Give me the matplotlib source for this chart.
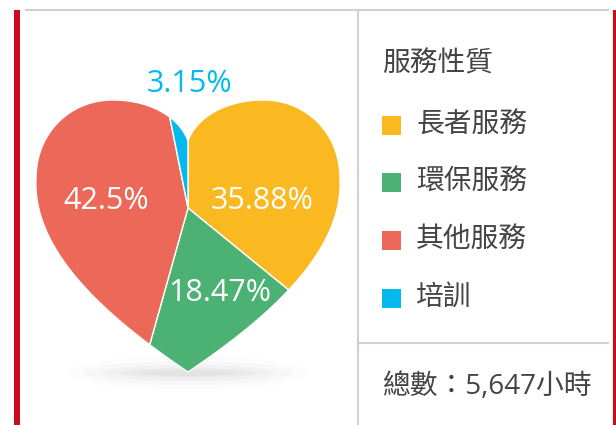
import matplotlib.pyplot as plt
import numpy as np
from matplotlib.patches import Ellipse, Rectangle

# data
categories = ['長者服務', '環保服務', '其他服務', '培訓']
shares = [35.88, 18.47, 42.5, 3.15]
colors = ['#FBB921', '#4BB274', '#EC6858', '#05B9EF']
legend_title = '服務性質'
total_text = '總數：5,647小時'

TXT = '#444444'
FONT = ['Open Sans', 'Noto Sans CJK TC', 'DejaVu Sans']
plt.rcParams['font.family'] = FONT

fig = plt.figure(figsize=(6.16, 4.25), dpi=100)
ax = fig.add_axes([0, 0, 1, 1])
ax.set_xlim(0, 616)
ax.set_ylim(425, 0)
ax.axis('off')

# heart outline (pixel coords, y downward) as cubic bezier segments
segs = [[(188, 141), (196, 118), (225, 100), (263, 100)],
        [(263, 100), (308, 100), (340, 135), (340, 178)],
        [(340, 178), (344, 252), (268, 318), (188, 372)],
        [(188, 372), (108, 318), (32, 252), (36, 178)],
        [(36, 178), (36, 135), (68, 100), (113, 100)],
        [(113, 100), (151, 100), (180, 118), (188, 141)]]
t = np.linspace(0, 1, 60)[:, None]
heart = []
for p0, p1, p2, p3 in segs:
    p0, p1, p2, p3 = map(np.array, (p0, p1, p2, p3))
    pts = (1 - t) ** 3 * p0 + 3 * (1 - t) ** 2 * t * p1 + 3 * (1 - t) * t ** 2 * p2 + t ** 3 * p3
    heart.extend(pts[:-1].tolist())
heart = np.array(heart)


def clip_convex(subject, clip):
    # Sutherland-Hodgman: clip subject polygon against a convex polygon
    area = np.sum(clip[:, 0] * np.roll(clip[:, 1], -1) - np.roll(clip[:, 0], -1) * clip[:, 1])
    sgn = np.sign(area)

    def inside(p, a, b):
        return sgn * ((b[0] - a[0]) * (p[1] - a[1]) - (b[1] - a[1]) * (p[0] - a[0])) >= 0

    def cross_pt(p, q, a, b):
        d1 = q - p
        d2 = b - a
        den = d1[0] * d2[1] - d1[1] * d2[0]
        s = ((a[0] - p[0]) * d2[1] - (a[1] - p[1]) * d2[0]) / den
        return p + s * d1

    out = list(subject)
    for i in range(len(clip)):
        a, b = clip[i], clip[(i + 1) % len(clip)]
        inp = out
        out = []
        if not inp:
            break
        prev = inp[-1]
        for cur in inp:
            if inside(cur, a, b):
                if not inside(prev, a, b):
                    out.append(cross_pt(prev, cur, a, b))
                out.append(cur)
            elif inside(prev, a, b):
                out.append(cross_pt(prev, cur, a, b))
            prev = cur
    return np.array(out)


# soft shadow under the heart
for w, h, a in [(240, 34, 0.02), (210, 24, 0.03), (175, 16, 0.045), (135, 10, 0.055), (95, 6, 0.06)]:
    ax.add_patch(Ellipse((188, 373), w, h, facecolor='#777777', edgecolor='none',
                         alpha=a, zorder=0))

# wedges, clockwise from 12 o'clock, cut to the heart
cx, cy = 188, 208
bounds = np.concatenate([[0], np.cumsum(shares)]) / np.sum(shares) * 2 * np.pi
for a0, a1, c in zip(bounds[:-1], bounds[1:], colors):
    phi = np.linspace(a0, a1, 40)
    wedge = np.vstack([[cx, cy], np.column_stack([cx + 400 * np.sin(phi), cy - 400 * np.cos(phi)])])
    poly = clip_convex(heart, wedge)
    ax.fill(poly[:, 0], poly[:, 1], facecolor=c, edgecolor='white', lw=1.0,
            joinstyle='round', zorder=2)

# percentage labels
label_pos = [(262, 201), (220, 293), (106, 201)]
for (x, y), v in zip(label_pos, shares[:3]):
    ax.text(x, y, f'{v:g}%', color='white', fontsize=22, ha='center',
            va='center', zorder=5)
ax.text(189, 84, f'{shares[3]:g}%', color=colors[3], fontsize=22,
        ha='center', va='center', zorder=5)

# frame lines
ax.plot([26, 608], [10, 10], color='#d0d0d0', lw=1.5, zorder=1)
ax.plot([358, 358], [10, 425], color='#d0d0d0', lw=1.5, zorder=1)
ax.plot([358, 608], [343, 343], color='#d0d0d0', lw=1.5, zorder=1)
ax.add_patch(Rectangle((14, 10), 6, 415, facecolor='#D0091E', edgecolor='none', zorder=1))
ax.add_patch(Rectangle((613, 10), 3, 415, facecolor='#D0091E', edgecolor='none', zorder=1))

# legend
ax.text(382, 64, legend_title, color=TXT, fontsize=20, ha='left', va='center')
ys = [125, 182, 240, 298]
for y, c, name in zip(ys, colors, categories):
    ax.add_patch(Rectangle((382, y - 9.5), 19, 19, facecolor=c, edgecolor='none'))
    ax.text(416, y, name, color=TXT, fontsize=20, ha='left', va='center')
ax.text(382, 387, total_text, color=TXT, fontsize=20, ha='left', va='center')

fig.savefig('out.png', dpi=100)
